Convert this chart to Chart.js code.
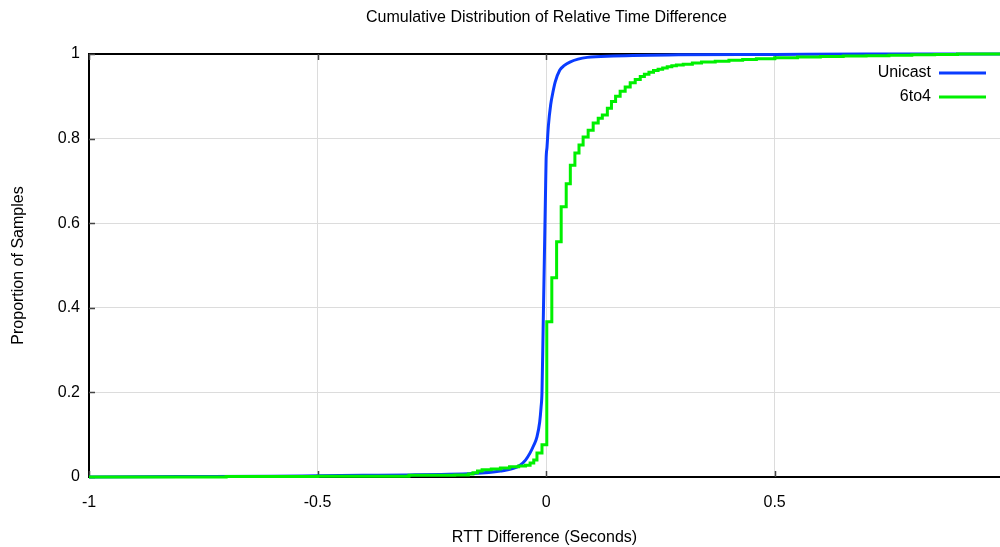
<!DOCTYPE html>
<html>
<head>
<meta charset="utf-8">
<script src="https://cdn.jsdelivr.net/npm/chart.js@4"></script>
<style>
  html, body { margin: 0; padding: 0; background: #fff; overflow: hidden; }
</style>
</head>
<body>
<canvas id="myChart" width="1000" height="547"></canvas>
<script>
// Unicast: smooth CDF
const unicastX = [-1, -0.8, -0.6, -0.5, -0.4, -0.3, -0.23, -0.16, -0.1, -0.07, -0.057, -0.045, -0.035, -0.027, -0.02, -0.014, -0.011, -0.009, -0.0065, -0.001, 0, 0.002, 0.005, 0.01, 0.015, 0.02, 0.03, 0.04, 0.052, 0.07, 0.09, 0.147, 0.29, 0.5, 0.7, 0.993];
const unicastP = [0, 0.001, 0.002, 0.003, 0.004, 0.005, 0.006, 0.008, 0.014, 0.021, 0.028, 0.04, 0.057, 0.075, 0.095, 0.13, 0.165, 0.2, 0.35, 0.69, 0.75, 0.78, 0.83, 0.88, 0.91, 0.934, 0.962, 0.973, 0.981, 0.988, 0.992, 0.995, 0.998, 0.999, 1, 1];

// 6to4: stepped CDF
const sixto4X = [-1, -0.7, -0.5, -0.3, -0.2, -0.17, -0.16, -0.15, -0.14, -0.12, -0.1, -0.08, -0.06, -0.045, -0.035, -0.027, -0.02, -0.009, 0.0015, 0.0125, 0.023, 0.033, 0.044, 0.053, 0.063, 0.072, 0.081, 0.092, 0.103, 0.114, 0.123, 0.134, 0.143, 0.152, 0.162, 0.173, 0.184, 0.195, 0.206, 0.215, 0.225, 0.235, 0.245, 0.255, 0.265, 0.275, 0.285, 0.3, 0.32, 0.34, 0.37, 0.4, 0.43, 0.46, 0.5, 0.55, 0.6, 0.65, 0.7, 0.75, 0.8, 0.85, 0.9, 0.993];
const sixto4P = [0, 0.001, 0.002, 0.004, 0.005, 0.007, 0.01, 0.014, 0.017, 0.019, 0.021, 0.024, 0.026, 0.028, 0.033, 0.04, 0.057, 0.076, 0.367, 0.471, 0.556, 0.639, 0.693, 0.737, 0.766, 0.785, 0.804, 0.82, 0.837, 0.848, 0.856, 0.872, 0.888, 0.9, 0.912, 0.922, 0.932, 0.94, 0.947, 0.952, 0.957, 0.961, 0.964, 0.967, 0.97, 0.972, 0.974, 0.976, 0.979, 0.981, 0.983, 0.985, 0.987, 0.989, 0.991, 0.993, 0.994, 0.995, 0.996, 0.997, 0.998, 0.999, 1, 1];

const xTicks = [-1, -0.5, 0, 0.5];
const yTicks = [0, 0.2, 0.4, 0.6, 0.8, 1];

const FONT = "'Liberation Sans', Arial, sans-serif";

function toPoints(xs, ys) {
  return xs.map((x, i) => ({ x: x, y: ys[i] }));
}

// title, frame, inward ticks and legend like gnuplot
const gnuplotBits = {
  id: "gnuplotBits",
  beforeDatasetsDraw(chart) {
    const { ctx, chartArea } = chart;
    const xs = chart.scales.x;
    const ys = chart.scales.y;
    ctx.save();
    ctx.strokeStyle = "#000";
    ctx.lineWidth = 2;
    ctx.beginPath();
    ctx.moveTo(chartArea.left, chartArea.top);
    ctx.lineTo(chartArea.right, chartArea.top);
    ctx.stroke();

    ctx.strokeStyle = "#444";
    ctx.lineWidth = 1.5;
    ctx.beginPath();
    xTicks.forEach((t) => {
      const px = Math.round(xs.getPixelForValue(t)) + 0.5;
      ctx.moveTo(px, chartArea.bottom);
      ctx.lineTo(px, chartArea.bottom - 6);
      ctx.moveTo(px, chartArea.top);
      ctx.lineTo(px, chartArea.top + 6);
    });
    yTicks.forEach((t) => {
      const py = Math.round(ys.getPixelForValue(t)) + 0.5;
      ctx.moveTo(chartArea.left, py);
      ctx.lineTo(chartArea.left + 6, py);
    });
    ctx.stroke();
    ctx.restore();
  },
  afterDraw(chart) {
    const { ctx, chartArea } = chart;
    ctx.save();
    ctx.fillStyle = "#000";
    ctx.font = "16px " + FONT;
    ctx.textAlign = "center";
    ctx.textBaseline = "middle";
    ctx.fillText("Cumulative Distribution of Relative Time Difference", (chartArea.left + chartArea.right) / 2 + 2, 18);

    ctx.textAlign = "right";
    chart.data.datasets.forEach((ds, i) => {
      const y = 73 + i * 24;
      ctx.fillStyle = "#000";
      ctx.fillText(ds.label, 931, y);
      ctx.strokeStyle = ds.borderColor;
      ctx.lineWidth = 3;
      ctx.beginPath();
      ctx.moveTo(939, y);
      ctx.lineTo(986, y);
      ctx.stroke();
    });
    ctx.restore();
  }
};

new Chart(document.getElementById("myChart"), {
  type: "scatter",
  data: {
    datasets: [
      {
        label: "Unicast",
        data: toPoints(unicastX, unicastP),
        showLine: true,
        borderColor: "#0a3cff",
        borderWidth: 3,
        pointRadius: 0,
        cubicInterpolationMode: "monotone",
        order: 2,
        clip: false
      },
      {
        label: "6to4",
        data: toPoints(sixto4X, sixto4P),
        showLine: true,
        stepped: true,
        borderColor: "#00f000",
        borderWidth: 3,
        pointRadius: 0,
        order: 1,
        clip: false
      }
    ]
  },
  options: {
    responsive: false,
    animation: false,
    devicePixelRatio: 1,
    layout: { padding: { top: 54, left: 0, right: 0, bottom: 0 } },
    plugins: {
      legend: { display: false },
      title: { display: false },
      tooltip: { enabled: false }
    },
    scales: {
      x: {
        type: "linear",
        min: -1,
        max: 0.993,
        afterBuildTicks: (scale) => {
          scale.ticks = xTicks.map((v) => ({ value: v }));
        },
        afterFit: (scale) => { scale.height = 70; },
        grid: { color: "#dcdcdc", lineWidth: 1, drawTicks: false },
        border: { color: "#000", width: 2 },
        ticks: {
          color: "#000",
          font: { family: FONT, size: 16 },
          padding: 16,
          maxRotation: 0,
          callback: (v) => String(v)
        },
        title: {
          display: true,
          text: "RTT Difference (Seconds)",
          color: "#000",
          font: { family: FONT, size: 16 },
          padding: { top: 0, bottom: 0 }
        }
      },
      y: {
        type: "linear",
        min: 0,
        max: 1,
        afterBuildTicks: (scale) => {
          scale.ticks = yTicks.map((v) => ({ value: v }));
        },
        afterFit: (scale) => { scale.width = 89; },
        grid: { color: "#dcdcdc", lineWidth: 1, drawTicks: false },
        border: { color: "#000", width: 2 },
        ticks: {
          color: "#000",
          font: { family: FONT, size: 16 },
          padding: 9,
          callback: (v) => String(v)
        },
        title: {
          display: true,
          text: "Proportion of Samples",
          color: "#000",
          font: { family: FONT, size: 16 },
          padding: { top: 9, bottom: 0 }
        }
      }
    }
  },
  plugins: [gnuplotBits]
});
</script>
</body>
</html>
